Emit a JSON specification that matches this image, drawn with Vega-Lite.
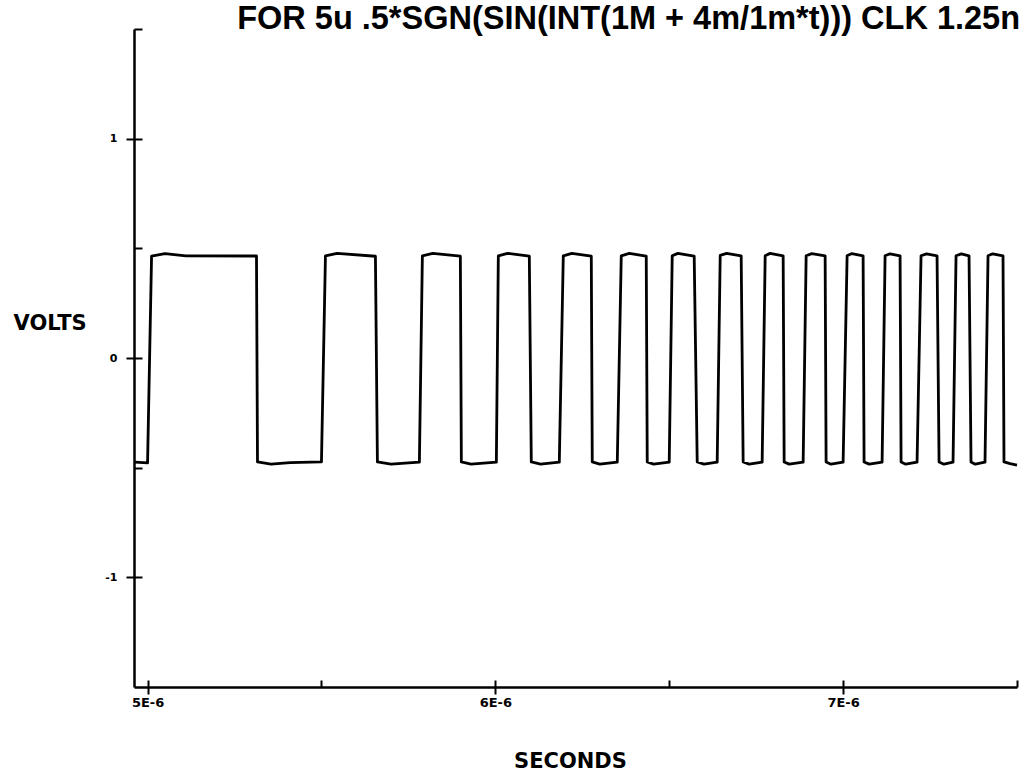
{
  "$schema": "https://vega.github.io/schema/vega-lite/v6.json",
  "autosize": "none",
  "width": 883,
  "height": 658,
  "padding": {"left": 134, "top": 29, "right": 13, "bottom": 88},
  "background": "white",
  "title": {
    "text": "FOR 5u .5*SGN(SIN(INT(1M + 4m/1m*t))) CLK 1.25n",
    "anchor": "end",
    "frame": "group",
    "font": "Liberation Sans",
    "fontWeight": "bold",
    "fontSize": 32.5,
    "color": "black",
    "baseline": "alphabetic",
    "offset": 0,
    "dx": 3,
    "dy": 33
  },
  "data": {
    "values": [
      {"t": 4.963e-6, "v": -0.475},
      {"t": 5.0e-6, "v": -0.478},
      {"t": 5.0115e-6, "v": 0.465},
      {"t": 5.05e-6, "v": 0.476},
      {"t": 5.11e-6, "v": 0.466},
      {"t": 5.3132e-6, "v": 0.465},
      {"t": 5.3161e-6, "v": -0.474},
      {"t": 5.355e-6, "v": -0.484},
      {"t": 5.41e-6, "v": -0.477},
      {"t": 5.5e-6, "v": -0.474},
      {"t": 5.5115e-6, "v": 0.466},
      {"t": 5.545e-6, "v": 0.477},
      {"t": 5.6552e-6, "v": 0.464},
      {"t": 5.6609e-6, "v": -0.474},
      {"t": 5.7e-6, "v": -0.484},
      {"t": 5.7816e-6, "v": -0.475},
      {"t": 5.7902e-6, "v": 0.466},
      {"t": 5.82e-6, "v": 0.477},
      {"t": 5.8994e-6, "v": 0.464},
      {"t": 5.9023e-6, "v": -0.474},
      {"t": 5.93e-6, "v": -0.484},
      {"t": 6.0029e-6, "v": -0.475},
      {"t": 6.0086e-6, "v": 0.466},
      {"t": 6.035e-6, "v": 0.477},
      {"t": 6.0977e-6, "v": 0.464},
      {"t": 6.1034e-6, "v": -0.474},
      {"t": 6.13e-6, "v": -0.484},
      {"t": 6.1839e-6, "v": -0.475},
      {"t": 6.1954e-6, "v": 0.466},
      {"t": 6.22e-6, "v": 0.477},
      {"t": 6.2759e-6, "v": 0.464},
      {"t": 6.2787e-6, "v": -0.474},
      {"t": 6.3e-6, "v": -0.484},
      {"t": 6.3506e-6, "v": -0.475},
      {"t": 6.3621e-6, "v": 0.466},
      {"t": 6.385e-6, "v": 0.477},
      {"t": 6.4339e-6, "v": 0.464},
      {"t": 6.4368e-6, "v": -0.474},
      {"t": 6.455e-6, "v": -0.484},
      {"t": 6.5e-6, "v": -0.475},
      {"t": 6.5086e-6, "v": 0.466},
      {"t": 6.525e-6, "v": 0.477},
      {"t": 6.5718e-6, "v": 0.464},
      {"t": 6.5805e-6, "v": -0.474},
      {"t": 6.6e-6, "v": -0.484},
      {"t": 6.6379e-6, "v": -0.475},
      {"t": 6.6466e-6, "v": 0.468},
      {"t": 6.665e-6, "v": 0.477},
      {"t": 6.7069e-6, "v": 0.466},
      {"t": 6.7126e-6, "v": -0.474},
      {"t": 6.73e-6, "v": -0.484},
      {"t": 6.7672e-6, "v": -0.475},
      {"t": 6.7759e-6, "v": 0.466},
      {"t": 6.79e-6, "v": 0.477},
      {"t": 6.8276e-6, "v": 0.466},
      {"t": 6.8305e-6, "v": -0.474},
      {"t": 6.845e-6, "v": -0.484},
      {"t": 6.8851e-6, "v": -0.475},
      {"t": 6.8937e-6, "v": 0.466},
      {"t": 6.91e-6, "v": 0.476},
      {"t": 6.9483e-6, "v": 0.466},
      {"t": 6.9511e-6, "v": -0.474},
      {"t": 6.965e-6, "v": -0.484},
      {"t": 7.0e-6, "v": -0.475},
      {"t": 7.0115e-6, "v": 0.466},
      {"t": 7.025e-6, "v": 0.476},
      {"t": 7.0575e-6, "v": 0.466},
      {"t": 7.0603e-6, "v": -0.474},
      {"t": 7.075e-6, "v": -0.484},
      {"t": 7.1121e-6, "v": -0.475},
      {"t": 7.1207e-6, "v": 0.466},
      {"t": 7.135e-6, "v": 0.475},
      {"t": 7.1638e-6, "v": 0.466},
      {"t": 7.1667e-6, "v": -0.474},
      {"t": 7.18e-6, "v": -0.484},
      {"t": 7.2126e-6, "v": -0.475},
      {"t": 7.2241e-6, "v": 0.466},
      {"t": 7.24e-6, "v": 0.475},
      {"t": 7.2701e-6, "v": 0.466},
      {"t": 7.2759e-6, "v": -0.474},
      {"t": 7.29e-6, "v": -0.484},
      {"t": 7.3161e-6, "v": -0.475},
      {"t": 7.3247e-6, "v": 0.466},
      {"t": 7.34e-6, "v": 0.475},
      {"t": 7.3621e-6, "v": 0.466},
      {"t": 7.3678e-6, "v": -0.474},
      {"t": 7.38e-6, "v": -0.484},
      {"t": 7.408e-6, "v": -0.475},
      {"t": 7.4167e-6, "v": 0.466},
      {"t": 7.43e-6, "v": 0.475},
      {"t": 7.4598e-6, "v": 0.466},
      {"t": 7.4626e-6, "v": -0.474},
      {"t": 7.48e-6, "v": -0.482},
      {"t": 7.5e-6, "v": -0.488}
    ]
  },
  "resolve": {"axis": {"x": "independent", "y": "independent"}},
  "layer": [
    {
      "mark": {"type": "line", "color": "black", "strokeWidth": 2.8, "strokeJoin": "round"},
      "encoding": {
        "x": {
          "field": "t",
          "type": "quantitative",
          "scale": {"domain": [4.961e-6, 7.5e-6], "nice": false, "zero": false},
          "axis": {
            "orient": "bottom",
            "values": [5e-6, 6e-6, 7e-6],
            "grid": false,
            "tickSize": 7,
            "tickWidth": 2,
            "tickColor": "black",
            "domainColor": "black",
            "domainWidth": 2.5,
            "labelExpr": "round(datum.value * 1e6) + 'E-6'",
            "labelFont": "DejaVu Sans",
            "labelFontWeight": "bold",
            "labelFontSize": 13,
            "labelColor": "black",
            "labelPadding": 2,
            "labelFlush": false,
            "labelOverlap": false,
            "title": "SECONDS",
            "titleFont": "DejaVu Sans",
            "titleFontWeight": "bold",
            "titleFontSize": 21,
            "titleColor": "black",
            "titleAngle": 0,
            "titleAlign": "center",
            "titleBaseline": "middle",
            "titleX": 436,
            "titleY": 74
          }
        },
        "y": {
          "field": "v",
          "type": "quantitative",
          "scale": {"domain": [-1.5, 1.5], "nice": false, "zero": false},
          "axis": {
            "orient": "left",
            "values": [-1, 0, 1],
            "grid": false,
            "tickSize": 8,
            "tickWidth": 2,
            "tickColor": "black",
            "domainColor": "black",
            "domainWidth": 2.5,
            "labelExpr": "'' + datum.value",
            "labelFont": "DejaVu Sans",
            "labelFontWeight": "bold",
            "labelFontSize": 11,
            "labelColor": "black",
            "labelPadding": 9,
            "labelFlush": false,
            "labelOverlap": false,
            "title": "VOLTS",
            "titleFont": "DejaVu Sans",
            "titleFontWeight": "bold",
            "titleFontSize": 21,
            "titleColor": "black",
            "titleAngle": 0,
            "titleAlign": "left",
            "titleBaseline": "middle",
            "titleX": -121,
            "titleY": 294
          }
        }
      }
    },
    {
      "mark": {"type": "line", "opacity": 0},
      "encoding": {
        "x": {
          "field": "t",
          "type": "quantitative",
          "scale": {"domain": [4.961e-6, 7.5e-6], "nice": false, "zero": false},
          "axis": {
            "orient": "bottom",
            "values": [5e-6, 5.5e-6, 6e-6, 6.5e-6, 7e-6, 7.5e-6],
            "grid": false,
            "domain": false,
            "labels": false,
            "title": null,
            "tickSize": -7,
            "tickWidth": 2,
            "tickColor": "black"
          }
        },
        "y": {
          "field": "v",
          "type": "quantitative",
          "scale": {"domain": [-1.5, 1.5], "nice": false, "zero": false},
          "axis": {
            "orient": "left",
            "values": [-1, -0.5, 0, 0.5, 1, 1.5],
            "grid": false,
            "domain": false,
            "labels": false,
            "title": null,
            "tickSize": -8,
            "tickWidth": 2,
            "tickColor": "black"
          }
        }
      }
    }
  ],
  "config": {"view": {"stroke": null}}
}
